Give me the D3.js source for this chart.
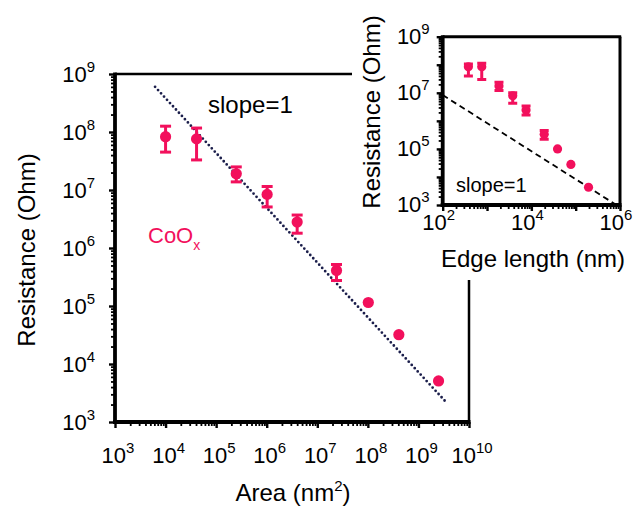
<!DOCTYPE html>
<html>
<head>
<meta charset="utf-8">
<script src="https://cdn.jsdelivr.net/npm/d3@7"></script>
<style>
  body { margin: 0; background: #fff; }
  text { font-family: "Liberation Sans", Arial, sans-serif; }
</style>
</head>
<body>
<svg width="635" height="510"></svg>
<script>
// main panel: resistance vs area
var areaX = [1e4, 4.1e4, 2.5e5, 1.02e6, 4e6, 2.4e7, 1.02e8, 4.1e8, 2.5e9];
var areaR = [8.3e7, 7.6e7, 1.9e7, 8.4e6, 2.8e6, 4.1e5, 1.15e5, 3.2e4, 5.1e3];
var areaHi = [1.26e8, 1.17e8, 2.5e7, 1.15e7, 3.7e6, 5.2e5, null, null, null];
var areaLo = [4.5e7, 3.3e7, 1.38e7, 5.1e6, 1.8e6, 2.75e5, null, null, null];
var areaFit = [[6.2e3, 6.0e8], [3.7e9, 2.1e3]];
var areaDecades = [3, 4, 5, 6, 7, 8, 9, 10];
var resDecades = [3, 4, 5, 6, 7, 8, 9];

// inset: resistance vs edge length
var edgeX = [380, 760, 1.86e3, 3.8e3, 7.6e3, 1.95e4, 3.9e4, 7.8e4, 1.95e5];
var edgeR = [8.5e7, 8.5e7, 1.74e7, 7.8e6, 2.45e6, 3.3e5, 1e5, 2.8e4, 4.3e3];
var edgeHi = [1.07e8, 1.12e8, 2.4e7, 1e7, 3.4e6, 4.5e5, null, null, null];
var edgeLo = [4e7, 3e7, 1.2e7, 4.2e6, 1.6e6, 2.2e5, null, null, null];
var edgeFit = [[100, 8.3e6], [1e6, 8.3e2]];
var edgeDecades = [2, 4, 6];
var insetResDecades = [3, 5, 7, 9];

var pink = '#f2105c';
var svg = d3.select('svg');

function minorTicks(lo, hi) {
  var t = [];
  for (var e = lo; e < hi; e++) {
    for (var m = 2; m < 10; m++) t.push(m * Math.pow(10, e));
  }
  return t;
}

function powLabel(g, x, y, exp, size, anchor) {
  var t = g.append('text')
    .attr('x', x).attr('y', y)
    .attr('text-anchor', anchor)
    .style('font-size', size + 'px');
  t.append('tspan').text('10');
  t.append('tspan').attr('dy', -size * 0.44)
    .style('font-size', (size * 0.68) + 'px').text(exp);
}

function tickStyle(w) {
  return function(a) {
    a.select('.domain').remove();
    a.selectAll('line').attr('stroke', '#000').attr('stroke-width', w);
  };
}

function drawPanel(g, cfg) {
  var x = cfg.x, y = cfg.y;
  var x0 = x.range()[0], x1 = x.range()[1];
  var y0 = y.range()[0], y1 = y.range()[1];

  var xd = x.domain().map(function(d) { return Math.round(Math.log10(d)); });
  var yd = y.domain().map(function(d) { return Math.round(Math.log10(d)); });
  var xMajor = d3.range(xd[0], xd[1] + 1).map(function(e) { return Math.pow(10, e); });
  var yMajor = d3.range(yd[0], yd[1] + 1).map(function(e) { return Math.pow(10, e); });

  // ticks (outside)
  g.append('g').attr('transform', 'translate(0,' + y0 + ')')
    .call(d3.axisBottom(x).tickValues(minorTicks(xd[0], xd[1])).tickSize(cfg.minor).tickFormat(''))
    .call(tickStyle(1.8));
  g.append('g').attr('transform', 'translate(0,' + y0 + ')')
    .call(d3.axisBottom(x).tickValues(xMajor).tickSize(cfg.major).tickFormat(''))
    .call(tickStyle(2.4));
  g.append('g').attr('transform', 'translate(' + x0 + ',0)')
    .call(d3.axisLeft(y).tickValues(minorTicks(yd[0], yd[1])).tickSize(cfg.minor).tickFormat(''))
    .call(tickStyle(1.8));
  g.append('g').attr('transform', 'translate(' + x0 + ',0)')
    .call(d3.axisLeft(y).tickValues(yMajor).tickSize(cfg.major).tickFormat(''))
    .call(tickStyle(2.4));

  // frame
  g.append('line').attr('x1', x0).attr('x2', x0).attr('y1', y1 - 1.5).attr('y2', y0 + 2)
    .attr('stroke', '#000').attr('stroke-width', 3.8);
  g.append('line').attr('x1', x0 - 2).attr('x2', x1 + 1.5).attr('y1', y0).attr('y2', y0)
    .attr('stroke', '#000').attr('stroke-width', 3.8);
  g.append('line').attr('x1', x0).attr('x2', x1 + 1.2).attr('y1', y1).attr('y2', y1)
    .attr('stroke', '#000').attr('stroke-width', cfg.frame);
  g.append('line').attr('x1', x1).attr('x2', x1).attr('y1', y1).attr('y2', y0)
    .attr('stroke', '#000').attr('stroke-width', cfg.frame);

  // tick labels
  cfg.xLabels.forEach(function(e) {
    powLabel(g, x(Math.pow(10, e)) + cfg.xLabDx, y0 + cfg.xLabDy, e, cfg.tickFont, 'middle');
  });
  cfg.yLabels.forEach(function(e) {
    powLabel(g, x0 - cfg.yLabDx, y(Math.pow(10, e)) + cfg.yLabDy, e, cfg.tickFont, 'end');
  });

  // data area
  g.append('clipPath').attr('id', cfg.id)
    .append('rect').attr('x', x0).attr('y', y1).attr('width', x1 - x0).attr('height', y0 - y1);
  var plot = g.append('g').attr('clip-path', 'url(#' + cfg.id + ')');

  plot.append('path')
    .datum(cfg.fit)
    .attr('d', d3.line().x(function(d) { return x(d[0]); }).y(function(d) { return y(d[1]); }))
    .attr('fill', 'none')
    .attr('stroke', cfg.fitColor)
    .attr('stroke-width', cfg.fitWidth)
    .attr('stroke-linecap', cfg.fitCap)
    .attr('stroke-dasharray', cfg.fitDash);

  var pts = cfg.xs.map(function(v, i) {
    return {x: v, y: cfg.ys[i], hi: cfg.hi[i], lo: cfg.lo[i]};
  });
  var eb = pts.filter(function(d) { return d.hi != null; });
  plot.selectAll('.eb').data(eb).enter().append('line')
    .attr('class', 'eb')
    .attr('x1', function(d) { return x(d.x); }).attr('x2', function(d) { return x(d.x); })
    .attr('y1', function(d) { return y(d.hi); }).attr('y2', function(d) { return y(d.lo); })
    .attr('stroke', pink).attr('stroke-width', 3);
  ['hi', 'lo'].forEach(function(k) {
    plot.selectAll('.cap-' + k).data(eb).enter().append('line')
      .attr('class', 'cap-' + k)
      .attr('x1', function(d) { return x(d.x) - cfg.cap; }).attr('x2', function(d) { return x(d.x) + cfg.cap; })
      .attr('y1', function(d) { return y(d[k]); }).attr('y2', function(d) { return y(d[k]); })
      .attr('stroke', pink).attr('stroke-width', 3);
  });
  plot.selectAll('.pt').data(pts).enter().append('circle')
    .attr('class', 'pt')
    .attr('cx', function(d) { return x(d.x); })
    .attr('cy', function(d) { return y(d.y); })
    .attr('r', cfg.r)
    .attr('fill', pink);
}

// main
var xMain = d3.scaleLog().domain([1e3, 1e10]).range([115, 469]);
var yMain = d3.scaleLog().domain([1e3, 1e9]).range([422, 74]);
var gMain = svg.append('g');
drawPanel(gMain, {
  id: 'clipMain', x: xMain, y: yMain, minor: 4, major: 6, frame: 2.5,
  xLabels: areaDecades, yLabels: resDecades, tickFont: 22,
  xLabDx: 3, xLabDy: 41, yLabDx: 20, yLabDy: 8,
  fit: areaFit, fitColor: '#1b1e4b', fitWidth: 2.8, fitCap: 'round', fitDash: '0,4.4',
  xs: areaX, ys: areaR, hi: areaHi, lo: areaLo, cap: 5.5, r: 5.6
});
gMain.append('text').attr('x', 208).attr('y', 113).style('font-size', '24px').text('slope=1');
var coox = gMain.append('text').attr('x', 148).attr('y', 243).attr('fill', pink).style('font-size', '22px');
coox.append('tspan').text('CoO');
coox.append('tspan').attr('dy', 7).style('font-size', '14px').text('x');
gMain.append('text').attr('transform', 'translate(35,250) rotate(-90)')
  .attr('text-anchor', 'middle').style('font-size', '24px').text('Resistance (Ohm)');
var areaTitle = gMain.append('text').attr('x', 293).attr('y', 501)
  .attr('text-anchor', 'middle').style('font-size', '24px');
areaTitle.append('tspan').text('Area (nm');
areaTitle.append('tspan').attr('dy', -10).style('font-size', '15px').text('2');
areaTitle.append('tspan').attr('dy', 10).text(')');

// inset
svg.append('rect').attr('x', 352).attr('y', 0).attr('width', 283).attr('height', 280).attr('fill', '#fff');
var xIn = d3.scaleLog().domain([1e2, 1e6]).range([442.7, 620]);
var yIn = d3.scaleLog().domain([1e3, 1e9]).range([205, 36.7]);
var gIn = svg.append('g');
drawPanel(gIn, {
  id: 'clipInset', x: xIn, y: yIn, minor: 4, major: 6, frame: 3,
  xLabels: edgeDecades, yLabels: insetResDecades, tickFont: 22,
  xLabDx: -4, xLabDy: 25, yLabDx: 13, yLabDy: 7,
  fit: edgeFit, fitColor: '#000', fitWidth: 1.8, fitCap: 'butt', fitDash: '6,4',
  xs: edgeX, ys: edgeR, hi: edgeHi, lo: edgeLo, cap: 4.5, r: 4.6
});
gIn.append('text').attr('x', 456).attr('y', 192).style('font-size', '20px').text('slope=1');
gIn.append('text').attr('transform', 'translate(380,112) rotate(-90)')
  .attr('text-anchor', 'middle').style('font-size', '24px').text('Resistance (Ohm)');
gIn.append('text').attr('x', 533).attr('y', 267)
  .attr('text-anchor', 'middle').style('font-size', '24px').text('Edge length (nm)');
</script>
</body>
</html>
